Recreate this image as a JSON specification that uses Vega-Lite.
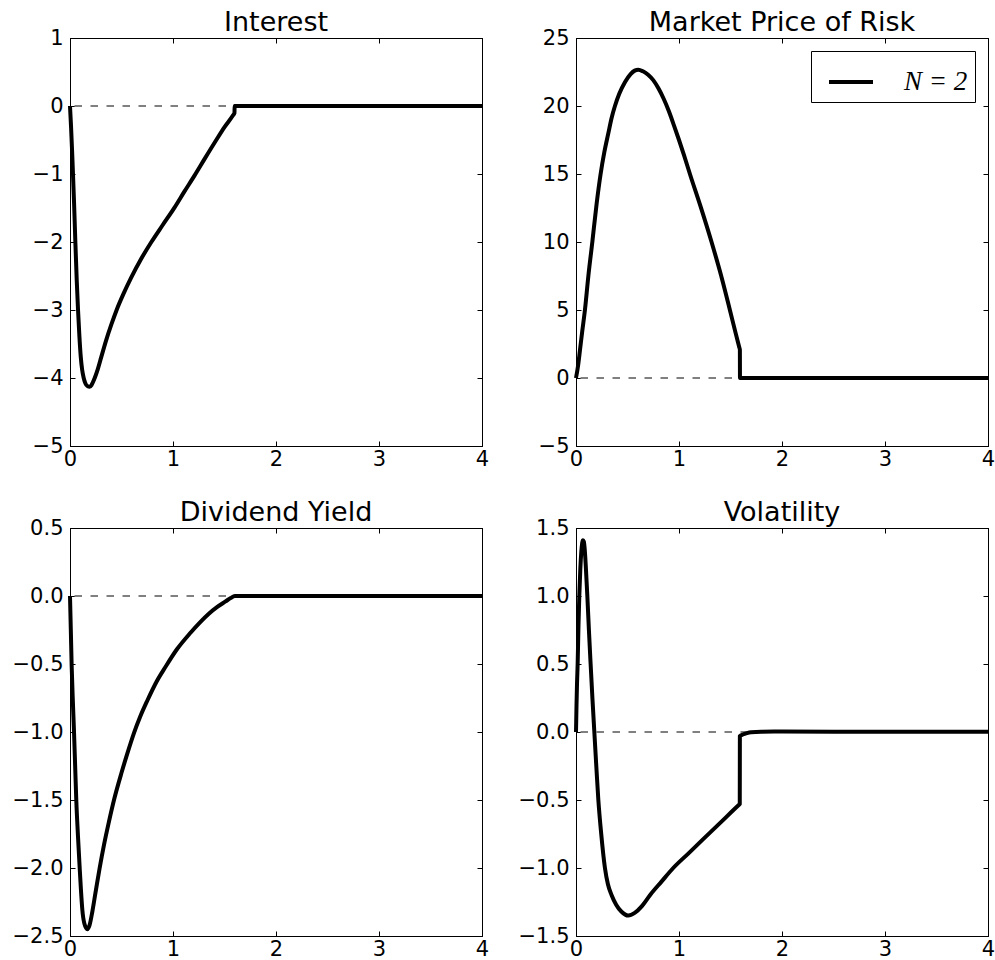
{
  "$schema": "https://vega.github.io/schema/vega-lite/v6.json",
  "padding": {"left": 11, "top": 8, "right": 5, "bottom": 0},
  "background": "white",
  "datasets": {
    "curves": [
      {"p": "Interest", "t": 0, "v": 0},
      {"p": "Interest", "t": 0.01, "v": -0.3},
      {"p": "Interest", "t": 0.02, "v": -0.65},
      {"p": "Interest", "t": 0.029, "v": -1.0},
      {"p": "Interest", "t": 0.04, "v": -1.45},
      {"p": "Interest", "t": 0.052, "v": -2.0},
      {"p": "Interest", "t": 0.065, "v": -2.55},
      {"p": "Interest", "t": 0.078, "v": -3.0},
      {"p": "Interest", "t": 0.09, "v": -3.35},
      {"p": "Interest", "t": 0.104, "v": -3.68},
      {"p": "Interest", "t": 0.118, "v": -3.88},
      {"p": "Interest", "t": 0.133, "v": -4.0},
      {"p": "Interest", "t": 0.15, "v": -4.08},
      {"p": "Interest", "t": 0.17, "v": -4.12},
      {"p": "Interest", "t": 0.191, "v": -4.13},
      {"p": "Interest", "t": 0.21, "v": -4.1},
      {"p": "Interest", "t": 0.24, "v": -4.0},
      {"p": "Interest", "t": 0.27, "v": -3.87},
      {"p": "Interest", "t": 0.304, "v": -3.69},
      {"p": "Interest", "t": 0.35, "v": -3.45},
      {"p": "Interest", "t": 0.4, "v": -3.22},
      {"p": "Interest", "t": 0.45, "v": -3.01},
      {"p": "Interest", "t": 0.52, "v": -2.76},
      {"p": "Interest", "t": 0.595, "v": -2.52},
      {"p": "Interest", "t": 0.69, "v": -2.25},
      {"p": "Interest", "t": 0.79, "v": -2.0},
      {"p": "Interest", "t": 0.9, "v": -1.75},
      {"p": "Interest", "t": 1.016, "v": -1.49},
      {"p": "Interest", "t": 1.11, "v": -1.26},
      {"p": "Interest", "t": 1.21, "v": -1.02},
      {"p": "Interest", "t": 1.31, "v": -0.77},
      {"p": "Interest", "t": 1.42, "v": -0.5},
      {"p": "Interest", "t": 1.5, "v": -0.31},
      {"p": "Interest", "t": 1.581, "v": -0.14},
      {"p": "Interest", "t": 1.597, "v": -0.1},
      {"p": "Interest", "t": 1.598, "v": 0},
      {"p": "Interest", "t": 2, "v": 0},
      {"p": "Interest", "t": 3, "v": 0},
      {"p": "Interest", "t": 4, "v": 0},

      {"p": "Market Price of Risk", "t": 0, "v": 0},
      {"p": "Market Price of Risk", "t": 0.02, "v": 0.9},
      {"p": "Market Price of Risk", "t": 0.039, "v": 2.08},
      {"p": "Market Price of Risk", "t": 0.06, "v": 3.4},
      {"p": "Market Price of Risk", "t": 0.087, "v": 5.02},
      {"p": "Market Price of Risk", "t": 0.12, "v": 7.5},
      {"p": "Market Price of Risk", "t": 0.158, "v": 9.97},
      {"p": "Market Price of Risk", "t": 0.2, "v": 12.8},
      {"p": "Market Price of Risk", "t": 0.239, "v": 15.0},
      {"p": "Market Price of Risk", "t": 0.275, "v": 16.6},
      {"p": "Market Price of Risk", "t": 0.314, "v": 18.0},
      {"p": "Market Price of Risk", "t": 0.345, "v": 19.1},
      {"p": "Market Price of Risk", "t": 0.378, "v": 20.0},
      {"p": "Market Price of Risk", "t": 0.42, "v": 20.9},
      {"p": "Market Price of Risk", "t": 0.475, "v": 21.75},
      {"p": "Market Price of Risk", "t": 0.53, "v": 22.35},
      {"p": "Market Price of Risk", "t": 0.57, "v": 22.6},
      {"p": "Market Price of Risk", "t": 0.605, "v": 22.67},
      {"p": "Market Price of Risk", "t": 0.65, "v": 22.55},
      {"p": "Market Price of Risk", "t": 0.7, "v": 22.3},
      {"p": "Market Price of Risk", "t": 0.75, "v": 21.9},
      {"p": "Market Price of Risk", "t": 0.8, "v": 21.3},
      {"p": "Market Price of Risk", "t": 0.85, "v": 20.55},
      {"p": "Market Price of Risk", "t": 0.9, "v": 19.65},
      {"p": "Market Price of Risk", "t": 0.95, "v": 18.6},
      {"p": "Market Price of Risk", "t": 1.0, "v": 17.5},
      {"p": "Market Price of Risk", "t": 1.05, "v": 16.35},
      {"p": "Market Price of Risk", "t": 1.106, "v": 15.0},
      {"p": "Market Price of Risk", "t": 1.21, "v": 12.6},
      {"p": "Market Price of Risk", "t": 1.316, "v": 10.0},
      {"p": "Market Price of Risk", "t": 1.41, "v": 7.5},
      {"p": "Market Price of Risk", "t": 1.494, "v": 5.0},
      {"p": "Market Price of Risk", "t": 1.55, "v": 3.3},
      {"p": "Market Price of Risk", "t": 1.585, "v": 2.26},
      {"p": "Market Price of Risk", "t": 1.591, "v": 2.08},
      {"p": "Market Price of Risk", "t": 1.592, "v": 0},
      {"p": "Market Price of Risk", "t": 2, "v": 0},
      {"p": "Market Price of Risk", "t": 3, "v": 0},
      {"p": "Market Price of Risk", "t": 4, "v": 0},

      {"p": "Dividend Yield", "t": 0, "v": 0},
      {"p": "Dividend Yield", "t": 0.008, "v": -0.25},
      {"p": "Dividend Yield", "t": 0.016, "v": -0.51},
      {"p": "Dividend Yield", "t": 0.028, "v": -0.78},
      {"p": "Dividend Yield", "t": 0.039, "v": -1.0},
      {"p": "Dividend Yield", "t": 0.05, "v": -1.25},
      {"p": "Dividend Yield", "t": 0.061, "v": -1.5},
      {"p": "Dividend Yield", "t": 0.077, "v": -1.76},
      {"p": "Dividend Yield", "t": 0.094, "v": -2.0},
      {"p": "Dividend Yield", "t": 0.107, "v": -2.17},
      {"p": "Dividend Yield", "t": 0.12, "v": -2.31},
      {"p": "Dividend Yield", "t": 0.14, "v": -2.41},
      {"p": "Dividend Yield", "t": 0.168, "v": -2.45},
      {"p": "Dividend Yield", "t": 0.19, "v": -2.42},
      {"p": "Dividend Yield", "t": 0.217, "v": -2.32},
      {"p": "Dividend Yield", "t": 0.25, "v": -2.17},
      {"p": "Dividend Yield", "t": 0.288, "v": -2.0},
      {"p": "Dividend Yield", "t": 0.33, "v": -1.83},
      {"p": "Dividend Yield", "t": 0.375, "v": -1.67},
      {"p": "Dividend Yield", "t": 0.427, "v": -1.5},
      {"p": "Dividend Yield", "t": 0.5, "v": -1.3},
      {"p": "Dividend Yield", "t": 0.56, "v": -1.15},
      {"p": "Dividend Yield", "t": 0.62, "v": -1.01},
      {"p": "Dividend Yield", "t": 0.68, "v": -0.89},
      {"p": "Dividend Yield", "t": 0.75, "v": -0.77},
      {"p": "Dividend Yield", "t": 0.84, "v": -0.63},
      {"p": "Dividend Yield", "t": 0.928, "v": -0.52},
      {"p": "Dividend Yield", "t": 1.04, "v": -0.39},
      {"p": "Dividend Yield", "t": 1.17, "v": -0.27},
      {"p": "Dividend Yield", "t": 1.26, "v": -0.195},
      {"p": "Dividend Yield", "t": 1.348, "v": -0.13},
      {"p": "Dividend Yield", "t": 1.43, "v": -0.08},
      {"p": "Dividend Yield", "t": 1.51, "v": -0.04},
      {"p": "Dividend Yield", "t": 1.56, "v": -0.015},
      {"p": "Dividend Yield", "t": 1.6, "v": 0},
      {"p": "Dividend Yield", "t": 2, "v": 0},
      {"p": "Dividend Yield", "t": 3, "v": 0},
      {"p": "Dividend Yield", "t": 4, "v": 0},

      {"p": "Volatility", "t": 0, "v": 0},
      {"p": "Volatility", "t": 0.005, "v": 0.2},
      {"p": "Volatility", "t": 0.01, "v": 0.36},
      {"p": "Volatility", "t": 0.016, "v": 0.5},
      {"p": "Volatility", "t": 0.024, "v": 0.78},
      {"p": "Volatility", "t": 0.032, "v": 1.0},
      {"p": "Volatility", "t": 0.042, "v": 1.2},
      {"p": "Volatility", "t": 0.052, "v": 1.33},
      {"p": "Volatility", "t": 0.06, "v": 1.39},
      {"p": "Volatility", "t": 0.068, "v": 1.41},
      {"p": "Volatility", "t": 0.076, "v": 1.4},
      {"p": "Volatility", "t": 0.085, "v": 1.34},
      {"p": "Volatility", "t": 0.095, "v": 1.22},
      {"p": "Volatility", "t": 0.11, "v": 1.0},
      {"p": "Volatility", "t": 0.126, "v": 0.74},
      {"p": "Volatility", "t": 0.142, "v": 0.5},
      {"p": "Volatility", "t": 0.16, "v": 0.24},
      {"p": "Volatility", "t": 0.178, "v": 0.0},
      {"p": "Volatility", "t": 0.197, "v": -0.25},
      {"p": "Volatility", "t": 0.217, "v": -0.5},
      {"p": "Volatility", "t": 0.245, "v": -0.75},
      {"p": "Volatility", "t": 0.281, "v": -1.0},
      {"p": "Volatility", "t": 0.31, "v": -1.12},
      {"p": "Volatility", "t": 0.346, "v": -1.2},
      {"p": "Volatility", "t": 0.39, "v": -1.27},
      {"p": "Volatility", "t": 0.44, "v": -1.32},
      {"p": "Volatility", "t": 0.508, "v": -1.35},
      {"p": "Volatility", "t": 0.57, "v": -1.33},
      {"p": "Volatility", "t": 0.64, "v": -1.28},
      {"p": "Volatility", "t": 0.718, "v": -1.2},
      {"p": "Volatility", "t": 0.83, "v": -1.1},
      {"p": "Volatility", "t": 0.944, "v": -1.0},
      {"p": "Volatility", "t": 1.09, "v": -0.894},
      {"p": "Volatility", "t": 1.235, "v": -0.788},
      {"p": "Volatility", "t": 1.41, "v": -0.661},
      {"p": "Volatility", "t": 1.58, "v": -0.537},
      {"p": "Volatility", "t": 1.59, "v": -0.53},
      {"p": "Volatility", "t": 1.591, "v": -0.03},
      {"p": "Volatility", "t": 1.62, "v": -0.018},
      {"p": "Volatility", "t": 1.66, "v": -0.008},
      {"p": "Volatility", "t": 1.7, "v": -0.002},
      {"p": "Volatility", "t": 1.8, "v": 0.002},
      {"p": "Volatility", "t": 2, "v": 0.003},
      {"p": "Volatility", "t": 3, "v": 0.002},
      {"p": "Volatility", "t": 4, "v": 0.002}
    ]
  },
  "data": {"name": "curves"},
  "columns": 2,
  "bounds": "flush",
  "spacing": {"row": 82, "column": 94},
  "resolve": {"scale": {"stroke": "independent"}, "legend": {"stroke": "independent"}},
  "concat": [
    {
      "title": "Interest",
      "width": 412, "height": 408,
      "transform": [{"filter": "datum.p === 'Interest'"}],
      "resolve": {"axis": {"x": "independent", "y": "independent"}},
      "layer": [
        {"data": {"values": [{}]}, "mark": {"type": "rule", "color": "#808080", "strokeWidth": 2, "strokeDash": [7.5, 8.5]}, "encoding": {"y": {"datum": 0, "type": "quantitative", "axis": null}}},
        {"mark": {"type": "line", "opacity": 0},
         "encoding": {
           "x": {"field": "t", "type": "quantitative", "scale": {"domain": [0, 4], "nice": false, "zero": false}, "axis": {"orient": "top", "labels": false, "values": [0, 1, 2, 3, 4]}},
           "y": {"field": "v", "type": "quantitative", "scale": {"domain": [-5, 1], "nice": false, "zero": false}, "axis": {"orient": "right", "labels": false, "values": [-5, -4, -3, -2, -1, 0, 1]}}
         }},
        {"mark": {"type": "line", "color": "black", "strokeWidth": 4, "strokeJoin": "round", "interpolate": "monotone"},
         "encoding": {
           "x": {"field": "t", "type": "quantitative", "axis": {"orient": "bottom", "values": [0, 1, 2, 3, 4], "format": "d"}},
           "y": {"field": "v", "type": "quantitative", "axis": {"orient": "left", "values": [-5, -4, -3, -2, -1, 0, 1], "format": "d"}}
         }}
      ]
    },
    {
      "title": "Market Price of Risk",
      "width": 412, "height": 408,
      "transform": [{"filter": "datum.p === 'Market Price of Risk'"}],
      "resolve": {"axis": {"x": "independent", "y": "independent"}},
      "layer": [
        {"data": {"values": [{}]}, "mark": {"type": "rule", "color": "#808080", "strokeWidth": 2, "strokeDash": [7.5, 8.5]}, "encoding": {"y": {"datum": 0, "type": "quantitative", "axis": null}}},
        {"mark": {"type": "line", "opacity": 0},
         "encoding": {
           "x": {"field": "t", "type": "quantitative", "scale": {"domain": [0, 4], "nice": false, "zero": false}, "axis": {"orient": "top", "labels": false, "values": [0, 1, 2, 3, 4]}},
           "y": {"field": "v", "type": "quantitative", "scale": {"domain": [-5, 25], "nice": false, "zero": false}, "axis": {"orient": "right", "labels": false, "values": [-5, 0, 5, 10, 15, 20, 25]}}
         }},
        {"mark": {"type": "line", "strokeWidth": 4, "strokeJoin": "round", "interpolate": "monotone"},
         "encoding": {
           "x": {"field": "t", "type": "quantitative", "axis": {"orient": "bottom", "values": [0, 1, 2, 3, 4], "format": "d"}},
           "y": {"field": "v", "type": "quantitative", "axis": {"orient": "left", "values": [-5, 0, 5, 10, 15, 20, 25], "format": "d"}},
           "stroke": {"datum": "N = 2", "type": "nominal", "scale": {"range": ["black"]},
             "legend": {"orient": "top-right", "offset": 13, "title": null, "symbolType": "stroke", "symbolStrokeWidth": 4, "symbolSize": 1936, "symbolOffset": 9, "labelOffset": 29, "padding": 7, "strokeColor": "black", "fillColor": "white", "cornerRadius": 0, "labelFont": "Liberation Serif", "labelFontStyle": "italic", "labelFontSize": 27, "labelColor": "black", "labelExpr": "datum.label + '\u00a0'"}}
         }}
      ]
    },
    {
      "title": "Dividend Yield",
      "width": 412, "height": 408,
      "transform": [{"filter": "datum.p === 'Dividend Yield'"}],
      "resolve": {"axis": {"x": "independent", "y": "independent"}},
      "layer": [
        {"data": {"values": [{}]}, "mark": {"type": "rule", "color": "#808080", "strokeWidth": 2, "strokeDash": [7.5, 8.5]}, "encoding": {"y": {"datum": 0, "type": "quantitative", "axis": null}}},
        {"mark": {"type": "line", "opacity": 0},
         "encoding": {
           "x": {"field": "t", "type": "quantitative", "scale": {"domain": [0, 4], "nice": false, "zero": false}, "axis": {"orient": "top", "labels": false, "values": [0, 1, 2, 3, 4]}},
           "y": {"field": "v", "type": "quantitative", "scale": {"domain": [-2.5, 0.5], "nice": false, "zero": false}, "axis": {"orient": "right", "labels": false, "values": [-2.5, -2, -1.5, -1, -0.5, 0, 0.5]}}
         }},
        {"mark": {"type": "line", "color": "black", "strokeWidth": 4, "strokeJoin": "round", "interpolate": "monotone"},
         "encoding": {
           "x": {"field": "t", "type": "quantitative", "axis": {"orient": "bottom", "values": [0, 1, 2, 3, 4], "format": "d"}},
           "y": {"field": "v", "type": "quantitative", "axis": {"orient": "left", "values": [-2.5, -2, -1.5, -1, -0.5, 0, 0.5], "format": ".1f"}}
         }}
      ]
    },
    {
      "title": "Volatility",
      "width": 412, "height": 408,
      "transform": [{"filter": "datum.p === 'Volatility'"}],
      "resolve": {"axis": {"x": "independent", "y": "independent"}},
      "layer": [
        {"data": {"values": [{}]}, "mark": {"type": "rule", "color": "#808080", "strokeWidth": 2, "strokeDash": [7.5, 8.5]}, "encoding": {"y": {"datum": 0, "type": "quantitative", "axis": null}}},
        {"mark": {"type": "line", "opacity": 0},
         "encoding": {
           "x": {"field": "t", "type": "quantitative", "scale": {"domain": [0, 4], "nice": false, "zero": false}, "axis": {"orient": "top", "labels": false, "values": [0, 1, 2, 3, 4]}},
           "y": {"field": "v", "type": "quantitative", "scale": {"domain": [-1.5, 1.5], "nice": false, "zero": false}, "axis": {"orient": "right", "labels": false, "values": [-1.5, -1, -0.5, 0, 0.5, 1, 1.5]}}
         }},
        {"mark": {"type": "line", "color": "black", "strokeWidth": 4, "strokeJoin": "round", "interpolate": "monotone"},
         "encoding": {
           "x": {"field": "t", "type": "quantitative", "axis": {"orient": "bottom", "values": [0, 1, 2, 3, 4], "format": "d"}},
           "y": {"field": "v", "type": "quantitative", "axis": {"orient": "left", "values": [-1.5, -1, -0.5, 0, 0.5, 1, 1.5], "format": ".1f"}}
         }}
      ]
    }
  ],
  "config": {
    "view": {"stroke": "black", "strokeWidth": 1},
    "axis": {
      "title": null, "grid": false,
      "domainColor": "black", "domainWidth": 1,
      "tickColor": "black", "tickWidth": 1, "tickSize": -5,
      "labelFont": "DejaVu Sans", "labelFontSize": 21, "labelColor": "black",
      "labelFlush": false, "labelOverlap": false
    },
    "axisX": {"labelPadding": 7.5},
    "axisY": {"labelPadding": 12},
    "title": {"font": "DejaVu Sans", "fontSize": 27, "fontWeight": "normal", "color": "black", "offset": -10, "anchor": "middle"},
    "line": {"strokeCap": "butt"}
  }
}
